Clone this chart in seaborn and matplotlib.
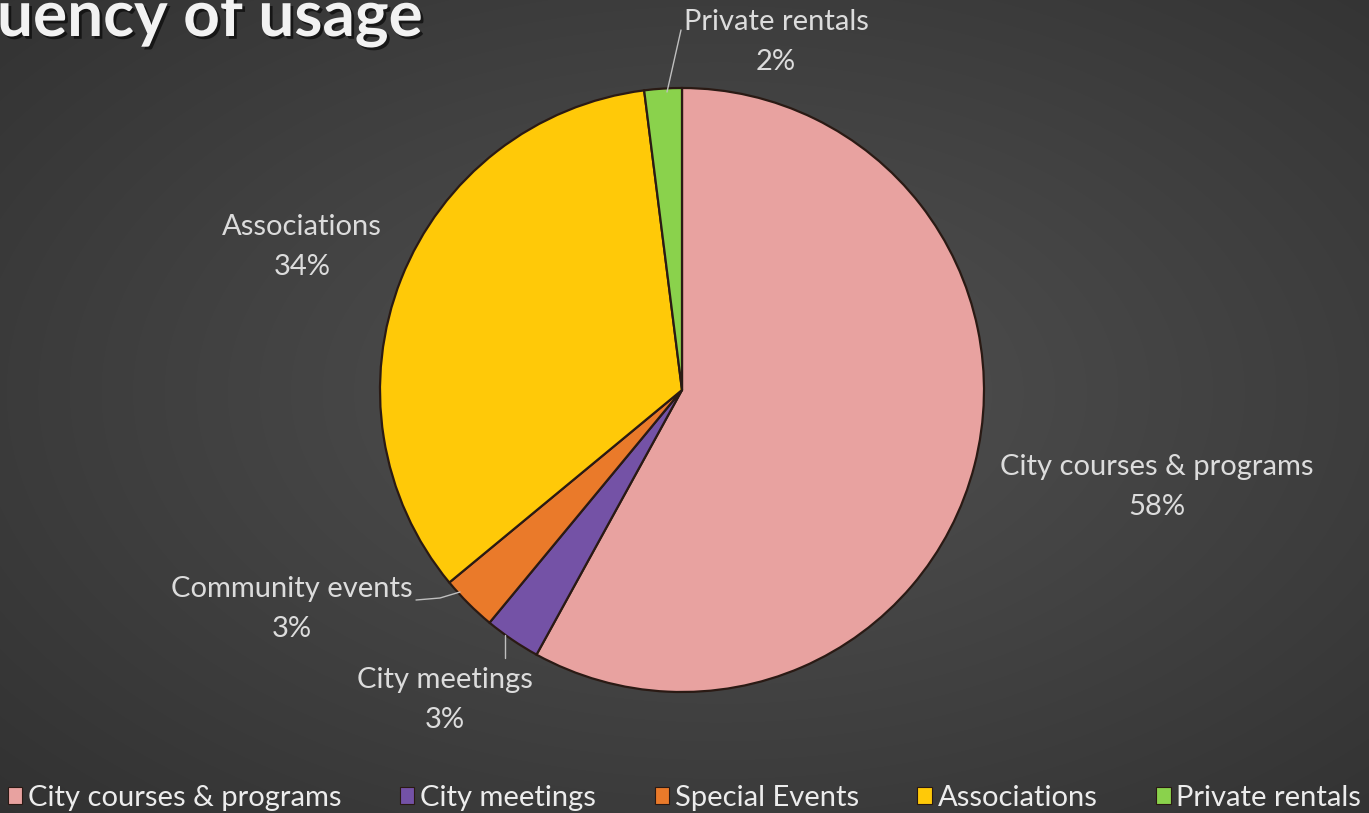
import numpy as np
import matplotlib
matplotlib.use("Agg")
import matplotlib.pyplot as plt
import matplotlib.patheffects as pe
import seaborn as sns

# data
categories = ["City courses & programs", "City meetings", "Special Events", "Associations", "Private rentals"]
slice_labels = ["City courses & programs", "City meetings", "Community events", "Associations", "Private rentals"]
shares = [58, 3, 3, 34, 2]
colors = ["#e8a2a0", "#7452a6", "#ea7a2a", "#ffc908", "#8ad24c"]

sns.set_theme(style="dark")
plt.rcParams['font.family'] = ['Lato', 'DejaVu Sans']

W, H = 1369, 813
fig = plt.figure(figsize=(W / 100, H / 100), dpi=100)
ax = fig.add_axes([0, 0, 1, 1])

# radial background
yy, xx = np.mgrid[0:H, 0:W]
d = np.sqrt(((xx - 720) / W) ** 2 + ((yy - 420) / H) ** 2)
g = 0.32 - 0.17 * d
bg = np.dstack([g, g, g])
ax.imshow(bg, extent=[0, W, 0, H], origin="lower", zorder=0)

cx, cy, r = 682, H - 390, 302
wedges, _ = ax.pie(shares, colors=colors, startangle=90, counterclock=False,
                   center=(cx, cy), radius=r, frame=True,
                   wedgeprops=dict(edgecolor="#2a1a14", linewidth=1.6))
for w in wedges:
    w.set_zorder(2)
ax.set_xlim(0, W)
ax.set_ylim(0, H)
ax.set_aspect("equal")
ax.axis("off")

total = sum(shares)
pct = [f"{v / total * 100:.0f}%" for v in shares]
txt = dict(color="#dcdcdc", fontsize=21, ha="center", va="center", linespacing=1.65, zorder=5)

ax.text(1157, H - 487, f"{slice_labels[0]}\n{pct[0]}", **txt)
ax.text(445, H - 700, f"{slice_labels[1]}\n{pct[1]}", **txt)
ax.text(292, H - 609, f"{slice_labels[2]}\n{pct[2]}", **txt)
ax.text(302, H - 247, f"{slice_labels[3]}\n{pct[3]}", **txt)
ax.text(776, H - 42, f"{slice_labels[4]}\n{pct[4]}", **txt)

lc = "#bfbfbf"
ax.plot([505, 505], [H - 635, H - 658], color=lc, lw=1, zorder=4)
ax.plot([416, 440, 460], [H - 600, H - 598, H - 592], color=lc, lw=1, zorder=4)
ax.plot([667, 681], [H - 92, H - 30], color=lc, lw=1, zorder=4)

ax.text(-3, H - 36, "uency of usage", color="#f2f2f2", fontsize=46, fontweight="bold",
        ha="left", va="baseline", zorder=5,
        path_effects=[pe.withSimplePatchShadow(offset=(2, -2), shadow_rgbFace="black", alpha=0.6)])

leg = fig.legend(wedges, categories, loc="lower center", ncol=5, frameon=False,
                 bbox_to_anchor=(0.5, -0.03), fontsize=21, labelcolor="#ececec",
                 handlelength=0.5, handleheight=0.5, handletextpad=0.2, columnspacing=2.0)
for h in leg.legend_handles:
    h.set_linewidth(0.8)

fig.savefig("out.png", dpi=100)
